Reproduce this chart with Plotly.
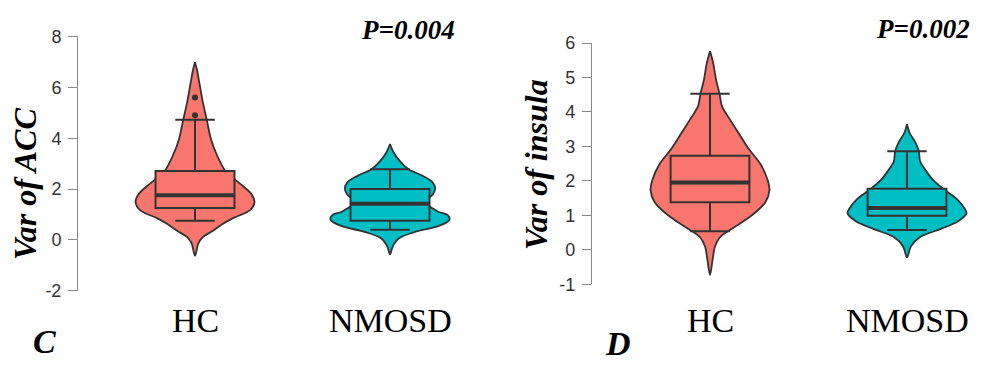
import plotly.graph_objects as go

# ---------------- data ----------------
groups = ["HC", "NMOSD"]
group_pos = [1, 2]
group_colors = ["#F8766D", "#00BFC4"]

# Panel C: Var of ACC -- violin outlines (value, relative density)
acc_hc_y = [-0.63, -0.38, -0.13, 0.11, 0.36, 0.61, 0.86, 1.16, 1.49, 1.8, 2.09, 2.4, 2.71,
            3.33, 3.95, 4.70, 5.44, 6.18, 6.68, 6.99]
acc_hc_d = [0, 0.03, 0.056, 0.13, 0.3, 0.45, 0.64, 0.92, 1.0, 0.95, 0.82, 0.66, 0.51,
            0.37, 0.27, 0.2, 0.13, 0.073, 0.034, 0]
acc_nm_y = [-0.57, -0.26, 0.05, 0.3, 0.55, 0.79, 0.98, 1.1, 1.29, 1.42, 1.6, 1.79, 2.03,
            2.28, 2.53, 2.78, 3.09, 3.46, 3.77]
acc_nm_d = [0, 0.045, 0.14, 0.4, 0.82, 1.0, 0.97, 0.82, 0.68, 0.59, 0.63, 0.72, 0.76,
            0.71, 0.54, 0.31, 0.17, 0.056, 0]

# Panel C box statistics: lower whisker, Q1, median, Q3, upper whisker
acc_lower = [0.75, 0.40]
acc_q1 = [1.26, 0.755]
acc_median = [1.76, 1.42]
acc_q3 = [2.71, 2.0]
acc_upper = [4.73, 2.78]
acc_outliers_hc = [4.9, 5.6]

# Panel D: Var of insula -- violin outlines
ins_hc_y = [-0.73, -0.27, 0.1, 0.37, 0.645, 1.01, 1.38, 1.74, 2.02, 2.48, 2.93, 3.39,
            3.85, 4.17, 4.53, 4.95, 5.4, 5.77]
ins_hc_d = [0, 0.045, 0.085, 0.17, 0.4, 0.71, 0.93, 1.0, 0.97, 0.85, 0.65, 0.48,
            0.31, 0.2, 0.16, 0.1, 0.056, 0]
ins_nm_y = [-0.22, 0.1, 0.37, 0.6, 0.83, 1.06, 1.19, 1.47, 1.74, 2.02, 2.29, 2.57,
            2.86, 3.12, 3.39, 3.65]
ins_nm_d = [0, 0.067, 0.22, 0.56, 0.86, 1.0, 0.97, 0.84, 0.63, 0.44, 0.32, 0.22,
            0.2, 0.14, 0.045, 0]

ins_lower = [0.535, 0.57]
ins_q1 = [1.38, 0.99]
ins_median = [1.95, 1.21]
ins_q3 = [2.73, 1.77]
ins_upper = [4.53, 2.86]

acc_ticks = [-2, 0, 2, 4, 6, 8]
acc_tick_text = ["-2", "0", "2", "4", "6", "8"]
ins_ticks = [-1, 0, 1, 2, 3, 4, 5, 6]
ins_tick_text = ["-1", "0", "1", "2", "3", "4", "5", "6"]

p_values = ["P=0.004", "P=0.002"]
panel_letters = ["C", "D"]
y_titles = ["Var of ACC", "Var of insula"]

# ---------------- style ----------------
W, H = 988, 367
OUTLINE = "#333333"
AXIS_GREY = "#8a8a8a"
SERIF = "Liberation Serif, Times New Roman, serif"
SANS = "Liberation Sans, Arial, sans-serif"

fig = go.Figure()


def add_violin(xref, yref, pos, ys, dens, half_max, color):
    right = [pos + half_max * d for d in dens]
    left = [pos - half_max * d for d in dens]
    xs = right + left[::-1]
    yy = list(ys) + list(ys)[::-1]
    fig.add_trace(go.Scatter(
        x=xs, y=yy, xaxis=xref, yaxis=yref, mode="lines",
        line=dict(color=OUTLINE, width=1.8, shape="spline", smoothing=0.9),
        fill="toself", fillcolor=color, hoverinfo="skip", showlegend=False))


def add_box(xref, yref, pos, lf, q1, med, q3, uf, bw, color):
    fig.add_trace(go.Box(
        x=[pos], lowerfence=[lf], q1=[q1], median=[med], q3=[q3], upperfence=[uf],
        xaxis=xref, yaxis=yref, width=bw, whiskerwidth=0.5,
        fillcolor=color, line=dict(color=OUTLINE, width=2),
        boxpoints=False, showlegend=False, hoverinfo="skip"))
    # thicker median bar
    fig.add_trace(go.Scatter(
        x=[pos - bw / 2, pos + bw / 2], y=[med, med], xaxis=xref, yaxis=yref,
        mode="lines", line=dict(color=OUTLINE, width=4),
        hoverinfo="skip", showlegend=False))


# Panel C: violins on the base axes, boxes on an overlay drawn above them
acc_profiles = [(acc_hc_y, acc_hc_d), (acc_nm_y, acc_nm_d)]
for i, (ys, ds) in enumerate(acc_profiles):
    add_violin("x", "y", group_pos[i], ys, ds, 0.305, group_colors[i])
    add_box("x3", "y3", group_pos[i], acc_lower[i], acc_q1[i], acc_median[i], acc_q3[i],
            acc_upper[i], 0.405, group_colors[i])
fig.add_trace(go.Scatter(
    x=[group_pos[0]] * len(acc_outliers_hc), y=acc_outliers_hc, xaxis="x3", yaxis="y3",
    mode="markers", marker=dict(color=OUTLINE, size=6), showlegend=False, hoverinfo="skip"))

# Panel D
ins_profiles = [(ins_hc_y, ins_hc_d), (ins_nm_y, ins_nm_d)]
for i, (ys, ds) in enumerate(ins_profiles):
    add_violin("x2", "y2", group_pos[i], ys, ds, 0.302, group_colors[i])
    add_box("x4", "y4", group_pos[i], ins_lower[i], ins_q1[i], ins_median[i], ins_q3[i],
            ins_upper[i], 0.40, group_colors[i])

hidden_x = dict(showline=False, showticklabels=False, showgrid=False, zeroline=False,
                ticks="", fixedrange=True)
hidden_y = dict(showline=False, showticklabels=False, showgrid=False, zeroline=False,
                ticks="", fixedrange=True)
y_common = dict(showline=True, linecolor=AXIS_GREY, linewidth=1, ticks="outside",
                ticklen=9, tickcolor=AXIS_GREY, tickwidth=1, showgrid=False,
                zeroline=False, ticklabelstandoff=3,
                tickfont=dict(family=SANS, size=18, color="#333333"))

dom_x1 = [78 / W, 487.5 / W]
dom_y1 = [1 - 297 / H, 1 - 28 / H]
dom_x2 = [591.8 / W, 985.8 / W]
dom_y2 = [1 - 290 / H, 1 - 35 / H]

fig.update_layout(
    width=W, height=H, margin=dict(l=0, r=0, t=0, b=0),
    paper_bgcolor="white", plot_bgcolor="white",
    xaxis=dict(domain=dom_x1, range=[0.4, 2.5], anchor="y", **hidden_x),
    yaxis=dict(domain=dom_y1, range=[-2, 8], anchor="x",
               tickvals=acc_ticks, ticktext=acc_tick_text, **y_common),
    xaxis2=dict(domain=dom_x2, range=[0.4, 2.4], anchor="y2", **hidden_x),
    yaxis2=dict(domain=dom_y2, range=[-1, 6], anchor="x2",
                tickvals=ins_ticks, ticktext=ins_tick_text, **y_common),
    xaxis3=dict(domain=dom_x1, range=[0.4, 2.5], anchor="y3", overlaying="x", **hidden_x),
    yaxis3=dict(domain=dom_y1, range=[-2, 8], anchor="x3", overlaying="y", **hidden_y),
    xaxis4=dict(domain=dom_x2, range=[0.4, 2.4], anchor="y4", overlaying="x2", **hidden_x),
    yaxis4=dict(domain=dom_y2, range=[-1, 6], anchor="x4", overlaying="y2", **hidden_y),
)

ann = []
# group labels under each panel
for xr in ["x", "x2"]:
    for i, g in enumerate(groups):
        ann.append(dict(x=group_pos[i], xref=xr, y=1 - 328 / H, yref="paper", text=g,
                        showarrow=False, xanchor="center", yanchor="middle",
                        font=dict(family=SERIF, size=34, color="black")))
# y titles
ann.append(dict(x=25 / W, y=1 - 184 / H, xref="paper", yref="paper",
                text="<b><i>" + y_titles[0] + "</i></b>", textangle=-90, showarrow=False,
                xanchor="center", yanchor="middle",
                font=dict(family=SERIF, size=32, color="black")))
ann.append(dict(x=536 / W, y=1 - 164 / H, xref="paper", yref="paper",
                text="<b><i>" + y_titles[1] + "</i></b>", textangle=-90, showarrow=False,
                xanchor="center", yanchor="middle",
                font=dict(family=SERIF, size=32, color="black")))
# p-values
for txt, cx, cy in zip(p_values, [408, 923], [21, 20]):
    ann.append(dict(x=cx / W, y=1 - cy / H, xref="paper", yref="paper",
                    text="<b><i>" + txt + "</i></b>", showarrow=False,
                    xanchor="center", yanchor="middle",
                    font=dict(family=SERIF, size=27, color="black")))
# panel letters
for txt, cx, cy in zip(panel_letters, [44, 618], [351, 353]):
    ann.append(dict(x=cx / W, y=1 - cy / H, xref="paper", yref="paper",
                    text="<b><i>" + txt + "</i></b>", showarrow=False,
                    xanchor="center", yanchor="middle",
                    font=dict(family=SERIF, size=34, color="black")))
fig.update_layout(annotations=ann)

fig.write_html("out.html", config={"displayModeBar": False})
